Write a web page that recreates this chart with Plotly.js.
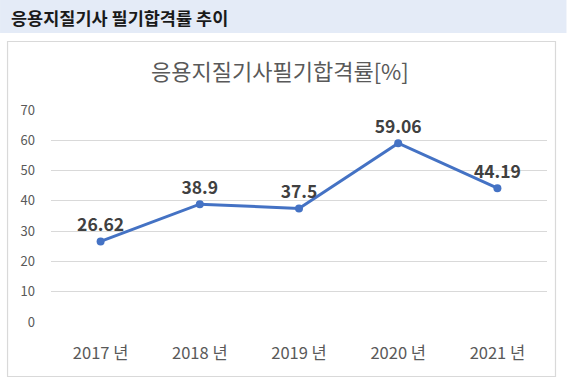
<!DOCTYPE html>
<html>
<head>
<meta charset="utf-8">
<script src="https://cdn.plot.ly/plotly-3.0.1.min.js"></script>
<style>html,body{margin:0;padding:0;background:#fff;}#chart{width:567px;height:382px;}</style>
</head>
<body>
<div id="chart"></div>
<script>
const categories = ["2017 년", "2018 년", "2019 년", "2020 년", "2021 년"];
const passRates = [26.62, 38.9, 37.5, 59.06, 44.19];
const rateLabels = ["26.62", "38.9", "37.5", "59.06", "44.19"];
const yTicks = [0, 10, 20, 30, 40, 50, 60, 70];
const headerText = "응용지질기사 필기합격률 추이";
const chartTitle = "응용지질기사필기합격률[%]";

const W = 567, H = 382;
const L = 51, R = 19.5, T = 110, B = 60;
const pw = W - L - R, ph = H - T - B;
const fx = px => (px - L) / pw;
const fy = py => (H - B - py) / ph;

const font = "'Noto Sans CJK KR', 'Noto Sans', sans-serif";

const trace = {
  x: categories,
  y: passRates,
  text: rateLabels,
  type: 'scatter',
  mode: 'lines+markers+text',
  textposition: 'top center',
  textfont: {family: font, size: 17.5, color: '#404040', weight: 'bold'},
  line: {color: '#4472c4', width: 3},
  marker: {color: '#4472c4', size: 8},
  cliponaxis: false,
  hoverinfo: 'skip'
};

const layout = {
  width: W, height: H,
  margin: {l: L, r: R, t: T, b: B, pad: 0},
  paper_bgcolor: '#ffffff',
  plot_bgcolor: '#ffffff',
  showlegend: false,
  font: {family: font, color: '#595959'},
  xaxis: {
    type: 'category',
    range: [-0.5, 4.5],
    showgrid: false,
    zeroline: false,
    showline: false,
    ticks: '',
    tickfont: {family: font, size: 16.5, color: '#595959'},
    ticklabelstandoff: 19,
    fixedrange: true
  },
  yaxis: {
    range: [0, 70],
    tickvals: yTicks,
    showgrid: true,
    gridcolor: '#d9d9d9',
    gridwidth: 1,
    zeroline: false,
    showline: false,
    ticks: '',
    tickfont: {family: font, size: 13, color: '#595959'},
    ticklabelstandoff: 15,
    fixedrange: true
  },
  shapes: [
    {type: 'rect', xref: 'paper', yref: 'paper', x0: fx(0), x1: fx(567), y0: fy(33), y1: fy(0),
     fillcolor: '#e4ebf7', line: {width: 0}, layer: 'below'},
    {type: 'rect', xref: 'paper', yref: 'paper', x0: fx(7.5), x1: fx(556), y0: fy(376.5), y1: fy(41.5),
     fillcolor: 'rgba(0,0,0,0)', line: {color: '#d9d9d9', width: 1.2}, layer: 'below'}
  ],
  annotations: [
    {text: headerText, xref: 'paper', yref: 'paper', x: fx(9), y: fy(17), xanchor: 'left', yanchor: 'middle',
     showarrow: false, font: {family: font, size: 17.5, color: '#1a1a1a', weight: 'bold'}},
    {text: chartTitle, xref: 'paper', yref: 'paper', x: fx(280), y: fy(70), xanchor: 'center', yanchor: 'middle',
     showarrow: false, font: {family: font, size: 22, color: '#595959'}}
  ]
};

Plotly.newPlot('chart', [trace], layout, {displayModeBar: false, staticPlot: true});
</script>
</body>
</html>
